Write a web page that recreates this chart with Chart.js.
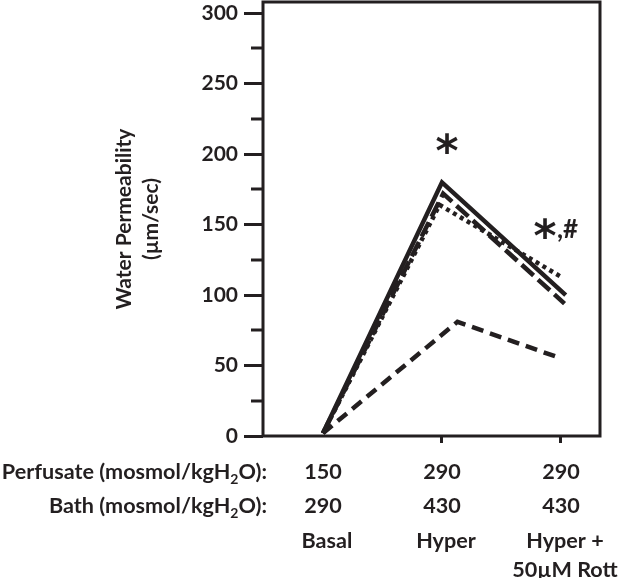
<!DOCTYPE html>
<html>
<head>
<meta charset="utf-8">
<script src="https://cdn.jsdelivr.net/npm/chart.js@4/dist/chart.umd.min.js"></script>
<style>
  html, body { margin: 0; padding: 0; background: #fff; }
</style>
</head>
<body>
<canvas id="myChart" width="627" height="578"></canvas>
<script>
// conditions along the x axis
var conditions = [["Basal"], ["Hyper"], ["Hyper +", "50µM Rott"]];
var perfusate = ["150", "290", "290"];
var bath = ["290", "430", "430"];

// y ticks
var yMax = 308;
var yStep = 25;
var yLabelStep = 50;

// four tubule traces, x = condition index (as drawn), y = water permeability
var solidX = [0, 1.0, 2.04];
var solidY = [2, 180, 100];
var longDashX = [0, 1.01, 2.03];
var longDashY = [2, 172, 94];
var dottedX = [0, 0.98, 2.0];
var dottedY = [2, 164, 113];
var dashedX = [0, 1.13, 1.97];
var dashedY = [2, 81, 56];

var ink = "#231f20";
var fam = "Lato, 'Open Sans', sans-serif";
var rowFont = "bold 21.6px " + fam;

function pts(xs, ys) {
  return xs.map(function (x, i) { return { x: x, y: ys[i] }; });
}

function trace(xs, ys, dash, w) {
  return {
    data: pts(xs, ys),
    borderColor: ink,
    borderWidth: w,
    borderDash: dash,
    borderCapStyle: "butt",
    pointRadius: 0,
    tension: 0,
    fill: false,
  };
}

function subLabel(ctx, pre, sub, post, xRight, y) {
  ctx.font = rowFont;
  var wPre = ctx.measureText(pre).width;
  var wPost = ctx.measureText(post).width;
  ctx.font = "bold 14px " + fam;
  var wSub = ctx.measureText(sub).width;
  var x = xRight - wPre - wSub - wPost;
  ctx.textAlign = "left";
  ctx.font = rowFont;
  ctx.fillText(pre, x, y);
  x += wPre;
  ctx.font = "bold 14px " + fam;
  ctx.fillText(sub, x, y + 5);
  x += wSub;
  ctx.font = rowFont;
  ctx.fillText(post, x, y);
}

var decor = {
  id: "decor",
  afterDraw: function (chart) {
    var ctx = chart.ctx, a = chart.chartArea;
    var xs = chart.scales.x, ys = chart.scales.y;
    ctx.save();
    ctx.strokeStyle = ink;
    ctx.lineWidth = 3;
    ctx.strokeRect(a.left, a.top, a.right - a.left, a.bottom - a.top);
    // minor y ticks
    for (var v = yStep; v < yMax; v += yLabelStep) {
      var py = Math.round(ys.getPixelForValue(v));
      ctx.beginPath();
      ctx.moveTo(a.left - 12, py);
      ctx.lineTo(a.left, py);
      ctx.stroke();
    }
    ctx.fillStyle = ink;
    ctx.textBaseline = "alphabetic";
    subLabel(ctx, "Perfusate (mosmol/kgH", "2", "O):", 267, 479);
    subLabel(ctx, "Bath (mosmol/kgH", "2", "O):", 267, 513);
    ctx.font = rowFont;
    ctx.textAlign = "center";
    for (var i = 0; i < conditions.length; i++) {
      var px = xs.getPixelForValue(i);
      ctx.fillText(perfusate[i], px, 479);
      ctx.fillText(bath[i], px, 513);
      for (var j = 0; j < conditions[i].length; j++) {
        ctx.fillText(conditions[i][j], px + 4, 548 + j * 29);
      }
    }
    // significance marks
    ctx.font = "bold 44px 'DejaVu Sans'";
    ctx.textAlign = "center";
    ctx.fillText("*", 447, 166);
    ctx.fillText("*", 545, 251);
    ctx.font = "bold 26px " + fam;
    ctx.textAlign = "left";
    ctx.fillText(",#", 557, 238);
    ctx.restore();
  },
};

new Chart(document.getElementById("myChart"), {
  type: "line",
  data: {
    datasets: [
      trace(solidX, solidY, [], 4.5),
      trace(longDashX, longDashY, [16, 6], 4.5),
      trace(dottedX, dottedY, [4, 4], 4.5),
      trace(dashedX, dashedY, [12, 7], 4.5),
    ],
  },
  options: {
    responsive: false,
    animation: false,
    layout: { padding: { top: 2, right: 27, bottom: 142, left: 0 } },
    plugins: { legend: { display: false }, tooltip: { enabled: false } },
    scales: {
      x: {
        type: "linear",
        min: -0.504,
        max: 2.328,
        ticks: { display: false, stepSize: 1, includeBounds: false },
        grid: {
          drawOnChartArea: false,
          tickLength: 7,
          lineWidth: 3,
          tickColor: function (c) { return c.tick && c.tick.value === 0 ? "rgba(0,0,0,0)" : ink; },
        },
        border: { display: false },
        afterFit: function (s) { s.height = 0; s.paddingLeft = 0; s.paddingRight = 0; },
      },
      y: {
        min: 0,
        max: yMax,
        ticks: {
          stepSize: yStep,
          includeBounds: false,
          padding: 6,
          color: ink,
          font: { family: fam, size: 21, weight: "bold" },
          callback: function (v) { return v % yLabelStep === 0 ? v : ""; },
        },
        grid: {
          drawOnChartArea: false,
          tickLength: 19,
          lineWidth: 3,
          tickColor: function (c) { return c.tick && c.tick.value % yLabelStep === 0 ? ink : "rgba(0,0,0,0)"; },
        },
        border: { display: false },
        title: {
          display: true,
          text: ["Water Permeability", "(µm/sec)"],
          color: ink,
          font: { family: fam, size: 21, weight: "bold", lineHeight: 1.29 },
          padding: { top: 111, bottom: 0 },
        },
        afterFit: function (s) { s.width = 263; s.paddingTop = 0; s.paddingBottom = 0; },
      },
    },
  },
  plugins: [decor],
});
</script>
</body>
</html>
